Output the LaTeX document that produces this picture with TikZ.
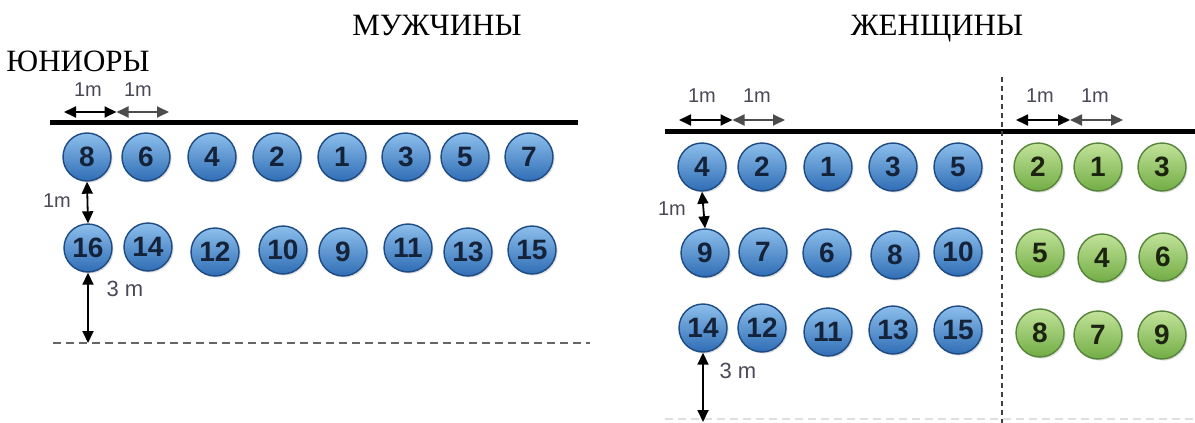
\documentclass[tikz,border=0pt]{standalone}
\usepackage{fontspec}
\setmainfont{Liberation Serif}
\setsansfont{Liberation Sans}
\usetikzlibrary{arrows.meta,positioning,shadows}

\definecolor{bluetop}{HTML}{8DBFEC}
\definecolor{bluebot}{HTML}{2F6DB5}
\definecolor{bluerim}{HTML}{1D4A82}
\definecolor{bluenum}{HTML}{14233A}
\definecolor{greentop}{HTML}{C2E39A}
\definecolor{greenbot}{HTML}{72AD45}
\definecolor{greenrim}{HTML}{56843A}
\definecolor{greennum}{HTML}{1C2410}
\definecolor{dimgray}{HTML}{4B4858}

\tikzset{
  ball/.style={circle, minimum size=24pt, inner sep=0pt, line width=0.7pt,
    drop shadow={shadow xshift=0.8pt, shadow yshift=-0.8pt, opacity=0.25},
    font=\sffamily\bfseries\fontsize{14}{14}\selectfont},
  blueball/.style={ball, draw=bluerim, top color=bluetop, bottom color=bluebot, text=bluenum},
  greenball/.style={ball, draw=greenrim, top color=greentop, bottom color=greenbot, text=greennum},
  dimarrow/.style={{Triangle[length=6pt,width=5.5pt]}-{Triangle[length=6pt,width=5.5pt]}, line width=0.9pt},
  dimlabel/.style={font=\sffamily\fontsize{10}{10}\selectfont, text=dimgray, inner sep=0pt},
  title/.style={font=\fontsize{15.5}{15.5}\selectfont, inner sep=0pt, anchor=base},
  startline/.style={line width=2.5pt},
}

\begin{document}
\begin{tikzpicture}[x=0.5pt, y=-0.5pt]
  \useasboundingbox (0,0) rectangle (1195,423);

  \node[title] (men) at (437,35) {МУЖЧИНЫ};
  \node[title] (women) at (937,35) {ЖЕНЩИНЫ};
  \node[title, anchor=base west] (juniors) at (6,71) {ЮНИОРЫ};

  \draw[startline] (50,122) coordinate (lstart) -- (578,122) coordinate (lend);
  \draw[startline] (665,131) coordinate (rstart) -- (1195,131) coordinate (rend);
  \draw[gray!80!black, line width=1pt, dash pattern=on 4pt off 2.5pt] (53,343) coordinate (lfin) -- (590,343);
  \draw[gray!25, line width=1pt, dash pattern=on 4pt off 2.5pt] (665,419) -- (1195,419);
  \draw[black!75, line width=1.2pt, dash pattern=on 2.5pt off 2pt] (1002,77) -- (1002,423);

  \foreach \n/\x in {8/87,6/146,4/212,2/277,1/342,3/406,5/465,7/529}
    \node[blueball] (l\n) at (\x,157) {\n};
  \foreach \n/\x/\y in {16/88/248,14/148/247,12/215/252,10/283/250,9/343/252,11/408/248,13/468/252,15/532/250}
    \node[blueball] (l\n) at (\x,\y) {\n};

  \foreach \n/\x/\y in {4/702/167,2/762/167,1/828/167,3/893/167,5/958/167,
                        9/705/253,7/763/252,6/827/253,8/895/255,10/958/252,
                        14/703/328,12/762/328,11/828/332,13/893/330,15/958/330}
    \node[blueball] (r\n) at (\x,\y) {\n};

  \foreach \n/\x/\y in {2/1038/167,1/1098/167,3/1162/167,
                        5/1040/253,4/1102/258,6/1163/257,
                        8/1040/333,7/1098/335,9/1162/335}
    \node[greenball] (g\n) at (\x,\y) {\n};

  \coordinate (la) at (64,112);
  \coordinate (lb) at (116.5,112);
  \coordinate (lc) at (169,112);
  \coordinate (ra) at (679,120);
  \coordinate (rb) at (732.5,120);
  \coordinate (rc) at (785,120);
  \coordinate (ga) at (1016,120);
  \coordinate (gb) at (1070,120);
  \coordinate (gc) at (1123,120);
  \coordinate (rfin) at (705,422);

  \draw[dimarrow] (la) -- (lb);
  \draw[dimarrow, black!70] (lb) -- (lc);
  \draw[dimarrow] (ra) -- (rb);
  \draw[dimarrow, black!70] (rb) -- (rc);
  \draw[dimarrow] (ga) -- (gb);
  \draw[dimarrow, black!70] (gb) -- (gc);

  \node[dimlabel] (l1m) at (88,90) {1m};
  \node[dimlabel] (l1mb) at (138,90) {1m};
  \node[dimlabel] (r1m) at (702,96) {1m};
  \node[dimlabel] (r1mb) at (757,96) {1m};
  \node[dimlabel] (g1m) at (1040,96) {1m};
  \node[dimlabel] (g1mb) at (1095,96) {1m};

  \draw[dimarrow] (l8.south) -- (l16.north);
  \draw[dimarrow] (l16.south) -- (l16.south |- lfin);
  \draw[dimarrow] (r4.south) -- (r9.north);
  \draw[dimarrow] (r14.south) -- (r14.south |- rfin);

  \node[dimlabel] (lrow) at (57,201) {1m};
  \node[dimlabel, font=\sffamily\fontsize{11}{11}\selectfont] (lback) at (125,289) {3 m};
  \node[dimlabel] (rrow) at (672,209) {1m};
  \node[dimlabel, font=\sffamily\fontsize{11}{11}\selectfont] (rback) at (738,371) {3 m};
\end{tikzpicture}
\end{document}
